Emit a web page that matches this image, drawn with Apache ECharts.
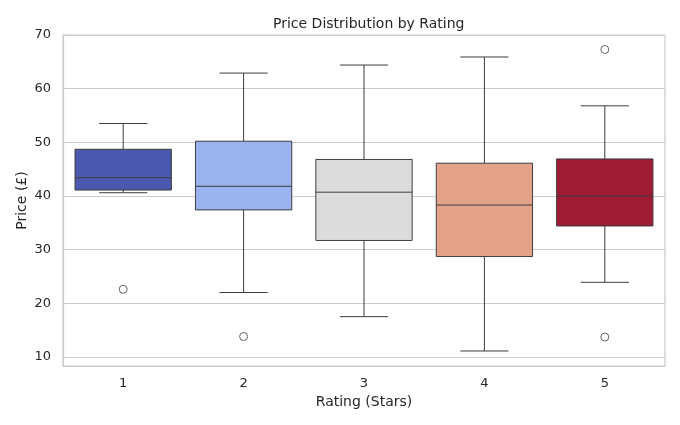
<!DOCTYPE html>
<html>
<head>
<meta charset="utf-8">
<script src="https://cdn.jsdelivr.net/npm/echarts@6/dist/echarts.min.js"></script>
<style>
  html, body { margin: 0; padding: 0; background: #fff; }
  #chart { width: 680px; height: 425px; }
</style>
</head>
<body>
<div id="chart"></div>
<script>
const categories = ["1", "2", "3", "4", "5"];
const lowWhisker = [40.6, 22.0, 17.5, 11.1, 23.9];
const q1 = [41.1, 37.4, 31.7, 28.7, 34.4];
const median = [43.4, 41.8, 40.7, 38.3, 40.0];
const q3 = [48.7, 50.2, 46.8, 46.1, 46.9];
const highWhisker = [53.5, 62.9, 64.4, 65.9, 56.8];
const outliers = [[0, 22.6], [1, 13.8], [4, 67.3], [4, 13.7]];
const yTicks = [10, 20, 30, 40, 50, 60, 70];
const colors = ["#4a58b0", "#9ab3ee", "#dcdcdc", "#e5a28a", "#9e1a35"];

const lineColor = "#3d3d3d";
const font = "DejaVu Sans";

const boxData = categories.map((c, i) => [i, lowWhisker[i], q1[i], median[i], q3[i], highWhisker[i]]);

// box 80% of the band, whisker caps half of that
function renderBox(params, api) {
  const i = api.value(0);
  const band = api.size([1, 0])[0];
  const half = band * 0.4;
  const cap = band * 0.2;
  const lo = api.coord([i, api.value(1)]);
  const b1 = api.coord([i, api.value(2)]);
  const md = api.coord([i, api.value(3)]);
  const b3 = api.coord([i, api.value(4)]);
  const hi = api.coord([i, api.value(5)]);
  const x = lo[0];
  const ls = { stroke: lineColor, lineWidth: 1 };
  return {
    type: "group",
    children: [
      { type: "line", shape: { x1: x, y1: lo[1], x2: x, y2: b1[1] }, style: ls },
      { type: "line", shape: { x1: x, y1: b3[1], x2: x, y2: hi[1] }, style: ls },
      { type: "line", shape: { x1: x - cap, y1: lo[1], x2: x + cap, y2: lo[1] }, style: ls },
      { type: "line", shape: { x1: x - cap, y1: hi[1], x2: x + cap, y2: hi[1] }, style: ls },
      {
        type: "rect",
        shape: { x: x - half, y: b3[1], width: half * 2, height: b1[1] - b3[1] },
        style: { fill: colors[i], stroke: lineColor, lineWidth: 1 }
      },
      { type: "line", shape: { x1: x - half, y1: md[1], x2: x + half, y2: md[1] }, style: ls }
    ]
  };
}

const chart = echarts.init(document.getElementById("chart"));
chart.setOption({
  animation: false,
  backgroundColor: "#ffffff",
  title: {
    text: "Price Distribution by Rating",
    left: 268,
    top: 12,
    textStyle: { fontFamily: font, fontSize: 14, fontWeight: "normal", color: "#262626" }
  },
  grid: {
    left: 63, right: 15, top: 35, bottom: 59,
    show: true, borderColor: "#cccccc", borderWidth: 1.2, containLabel: false
  },
  xAxis: {
    type: "category",
    data: categories,
    name: "Rating (Stars)",
    nameLocation: "middle",
    nameGap: 29,
    nameMoveOverlap: false,
    nameTextStyle: { fontFamily: font, fontSize: 14, color: "#262626" },
    axisLine: { lineStyle: { color: "#cccccc", width: 1.2 } },
    axisTick: { show: false },
    axisLabel: { fontFamily: font, fontSize: 13, color: "#262626", margin: 11 },
    splitLine: { show: false }
  },
  yAxis: {
    type: "value",
    min: 8.3,
    max: 70,
    name: "Price (£)",
    nameLocation: "middle",
    nameGap: 34,
    nameMoveOverlap: false,
    nameTextStyle: { fontFamily: font, fontSize: 14, color: "#262626" },
    axisLine: { show: true, lineStyle: { color: "#cccccc", width: 1.2 } },
    axisTick: { show: false, customValues: yTicks },
    axisLabel: { fontFamily: font, fontSize: 13, color: "#262626", margin: 12, customValues: yTicks },
    splitLine: { show: true, lineStyle: { color: "#cccccc", width: 1 } }
  },
  series: [
    {
      type: "custom",
      renderItem: renderBox,
      encode: { x: 0, y: [1, 2, 3, 4, 5] },
      data: boxData
    },
    {
      type: "scatter",
      data: outliers,
      symbol: "circle",
      symbolSize: 8,
      itemStyle: { color: "rgba(0,0,0,0)", borderColor: lineColor, borderWidth: 1 }
    }
  ]
});
</script>
</body>
</html>
